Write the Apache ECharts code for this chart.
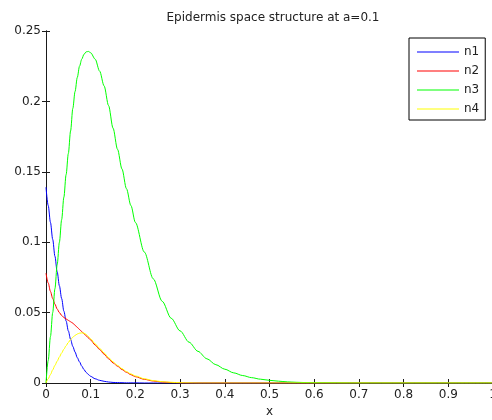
<!DOCTYPE html>
<html>
<head>
<meta charset="utf-8">
<script src="https://cdn.jsdelivr.net/npm/echarts@6/dist/echarts.min.js"></script>
<style>
  html, body { margin: 0; padding: 0; background: #fff; }
  #chart { width: 492px; height: 420px; }
</style>
</head>
<body>
<div id="chart"></div>
<script>
// Sample positions along x
const xs = [
  0, 0.005, 0.01, 0.015, 0.02, 0.025, 0.03, 0.035, 0.04, 0.045, 0.05,
  0.055, 0.06, 0.065, 0.07, 0.075, 0.08, 0.085, 0.09, 0.095, 0.1,
  0.11, 0.12, 0.13, 0.14, 0.15, 0.16, 0.17, 0.18, 0.19, 0.2,
  0.22, 0.24, 0.26, 0.28, 0.3, 0.32, 0.34, 0.36, 0.38, 0.4,
  0.42, 0.44, 0.46, 0.48, 0.5, 0.52, 0.54, 0.56, 0.58, 0.6,
  0.7, 0.8, 0.9, 1.0
];

const n1 = [
  0.139, 0.126, 0.114, 0.102, 0.090, 0.079, 0.069, 0.060, 0.051, 0.044, 0.037,
  0.031, 0.026, 0.022, 0.018, 0.015, 0.012, 0.0095, 0.0075, 0.006, 0.0047,
  0.003, 0.0019, 0.0012, 0.0007, 0.0004, 0.0003, 0.0002, 0.0001, 0.0001, 0.0001,
  0, 0, 0, 0, 0, 0, 0, 0, 0, 0,
  0, 0, 0, 0, 0, 0, 0, 0, 0, 0,
  0, 0, 0, 0
];

const n2 = [
  0.078, 0.071, 0.065, 0.060, 0.056, 0.0525, 0.050, 0.048, 0.0465, 0.0455, 0.0445,
  0.0435, 0.0425, 0.041, 0.0395, 0.038, 0.0365, 0.035, 0.0335, 0.032, 0.0305,
  0.027, 0.0238, 0.0205, 0.0172, 0.0143, 0.0119, 0.0096, 0.0076, 0.0059, 0.0045,
  0.0026, 0.0014, 0.0007, 0.0003, 0.0001, 0, 0, 0, 0, 0,
  0, 0, 0, 0, 0, 0, 0, 0, 0, 0,
  0, 0, 0, 0
];

const n3 = [
  0, 0.016, 0.033, 0.050, 0.067, 0.084, 0.100, 0.116, 0.132, 0.148, 0.163,
  0.179, 0.195, 0.207, 0.217, 0.225, 0.230, 0.2335, 0.2352, 0.2355, 0.2345,
  0.230, 0.2215, 0.211, 0.197, 0.181, 0.166, 0.152, 0.138, 0.126, 0.114,
  0.093, 0.074, 0.058, 0.046, 0.037, 0.029, 0.0225, 0.0172, 0.013, 0.0098,
  0.0072, 0.0053, 0.0038, 0.0027, 0.0019, 0.0013, 0.0008, 0.0005, 0.0003, 0.0002,
  0, 0, 0, 0
];

const n4 = [
  0, 0.003, 0.006, 0.0093, 0.0125, 0.0155, 0.0185, 0.0213, 0.024, 0.0265, 0.0288,
  0.0308, 0.0325, 0.0338, 0.0348, 0.0354, 0.0356, 0.0354, 0.0345, 0.033, 0.0313,
  0.0278, 0.0246, 0.0213, 0.018, 0.015, 0.0125, 0.0102, 0.0081, 0.0064, 0.005,
  0.003, 0.0017, 0.0009, 0.0005, 0.0002, 0.0001, 0, 0, 0, 0,
  0, 0, 0, 0, 0, 0, 0, 0, 0, 0,
  0, 0, 0, 0
];

const seriesNames = ['n1', 'n2', 'n3', 'n4'];
const seriesColors = ['#0000ff', '#ff0000', '#00ff00', '#ffff00'];
const seriesValues = [n1, n2, n3, n4];

const xTickLabels = ['0', '0.1', '0.2', '0.3', '0.4', '0.5', '0.6', '0.7', '0.8', '0.9', '1'];
const yTickLabels = ['0', '0.05', '0.1', '0.15', '0.2', '0.25'];

const FONT = '"DejaVu Sans", Arial, sans-serif';
const AXIS_COLOR = '#1a1a1a';
const LABEL_COLOR = '#222';

function pairs(vals) {
  return xs.map((x, i) => [x, vals[i]]);
}

const tickStyle = { show: true, inside: true, length: 4, lineStyle: { color: AXIS_COLOR, width: 1 } };
const lineStyleAxis = { show: true, lineStyle: { color: AXIS_COLOR, width: 1 } };

const chart = echarts.init(document.getElementById('chart'), null, { renderer: 'canvas' });

chart.setOption({
  animation: false,
  backgroundColor: '#fff',
  title: {
    text: 'Epidermis space structure at a=0.1',
    left: 268,
    textAlign: 'center',
    top: 7,
    textStyle: { fontFamily: FONT, fontSize: 12, fontWeight: 'normal', color: LABEL_COLOR }
  },
  legend: {
    orient: 'vertical',
    left: 409,
    top: 38,
    padding: [7, 6, 4, 8],
    icon: 'rect',
    itemWidth: 42,
    itemHeight: 1,
    itemGap: 5,
    backgroundColor: '#fff',
    borderColor: '#000',
    borderWidth: 1,
    borderRadius: 0,
    data: seriesNames,
    textStyle: { fontFamily: FONT, fontSize: 12, color: LABEL_COLOR, lineHeight: 14 }
  },
  grid: { left: 46, top: 31, width: 447, height: 352, containLabel: false, outerBoundsMode: 'none' },
  xAxis: [
    {
      type: 'value', min: 0, max: 1, interval: 0.1, position: 'bottom',
      name: 'x', nameLocation: 'middle', nameGap: 19,
      nameTextStyle: { fontFamily: FONT, fontSize: 12, color: LABEL_COLOR },
      axisLine: lineStyleAxis, axisTick: tickStyle, splitLine: { show: false },
      axisLabel: {
        fontFamily: FONT, fontSize: 12, color: LABEL_COLOR, margin: 6,
        formatter: v => xTickLabels[Math.round(v * 10)]
      }
    },
    {
      type: 'value', min: 0, max: 1, interval: 0.1, position: 'top',
      axisLine: lineStyleAxis, axisTick: tickStyle, splitLine: { show: false },
      axisLabel: { show: false }
    }
  ],
  yAxis: [
    {
      type: 'value', min: 0, max: 0.25, interval: 0.05, position: 'left',
      axisLine: lineStyleAxis, axisTick: tickStyle, splitLine: { show: false },
      axisLabel: {
        fontFamily: FONT, fontSize: 12, color: LABEL_COLOR, margin: 5,
        formatter: v => yTickLabels[Math.round(v * 20)]
      }
    },
    {
      type: 'value', min: 0, max: 0.25, interval: 0.05, position: 'right',
      axisLine: lineStyleAxis, axisTick: tickStyle, splitLine: { show: false },
      axisLabel: { show: false }
    }
  ],
  series: seriesNames.map((name, i) => ({
    name: name,
    type: 'line',
    xAxisIndex: 0,
    yAxisIndex: 0,
    data: pairs(seriesValues[i]),
    symbol: 'none',
    smooth: 0.3,
    smoothMonotone: 'x',
    color: seriesColors[i],
    lineStyle: { color: seriesColors[i], width: 1 },
    clip: true
  }))
});
</script>
</body>
</html>
